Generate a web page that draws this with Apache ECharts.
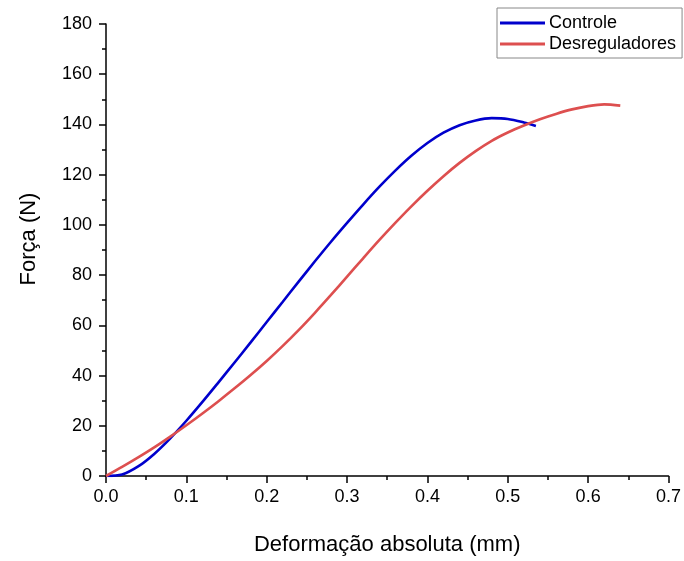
<!DOCTYPE html>
<html><head><meta charset="utf-8">
<script src="https://cdn.jsdelivr.net/npm/echarts@6/dist/echarts.min.js"></script>
<style>html,body{margin:0;padding:0;background:#fff}#c{width:684px;height:561px}</style>
</head><body><div id="c"></div>
<script>
const controleX = [0, 0.02, 0.04, 0.06, 0.08, 0.10, 0.12, 0.14, 0.16, 0.18, 0.20, 0.22, 0.24, 0.26, 0.28, 0.30, 0.32, 0.34, 0.36, 0.38, 0.40, 0.42, 0.44, 0.46, 0.48, 0.50, 0.52, 0.535];
const controleY = [0, 0.6, 3.8, 8.8, 15.0, 22.0, 29.5, 37.3, 45.2, 53.2, 61.3, 69.4, 77.5, 85.5, 93.3, 100.8, 108.1, 115.1, 121.6, 127.5, 132.6, 136.7, 139.7, 141.6, 142.5, 142.2, 140.8, 139.4];
const desregX = [0, 0.02, 0.04, 0.06, 0.08, 0.10, 0.12, 0.14, 0.16, 0.18, 0.20, 0.22, 0.24, 0.26, 0.28, 0.30, 0.32, 0.34, 0.36, 0.38, 0.40, 0.42, 0.44, 0.46, 0.48, 0.50, 0.52, 0.54, 0.56, 0.58, 0.60, 0.62, 0.64];
const desregY = [0, 3.6, 7.4, 11.4, 15.7, 20.2, 24.9, 29.8, 34.9, 40.2, 45.8, 51.8, 58.2, 65.0, 72.1, 79.4, 86.7, 93.9, 100.8, 107.4, 113.6, 119.4, 124.7, 129.4, 133.5, 136.8, 139.6, 142.1, 144.2, 146.0, 147.3, 148.0, 147.5];
const seriesNames = ['Controle', 'Desreguladores'];
const xTitle = 'Deformação absoluta (mm)';
const yTitle = 'Força (N)';

const zip = (xs, ys) => xs.map((x, i) => [x, ys[i]]);
const font = 'Arial, "Liberation Sans", sans-serif';
const chart = echarts.init(document.getElementById('c'), null, {renderer: 'canvas'});
chart.setOption({
  animation: false,
  backgroundColor: '#fff',
  grid: {left: 106, right: 15, top: 24, bottom: 84, containLabel: false},
  legend: {
    orient: 'vertical', left: 497, top: 8,
    padding: [6, 6, 5, 3], itemGap: 3,
    itemWidth: 45, itemHeight: 3, icon: 'rect',
    borderColor: '#888', borderWidth: 1,
    textStyle: {fontFamily: font, fontSize: 18, color: '#000', padding: [0, 0, 0, -1]},
    data: seriesNames
  },
  xAxis: {
    type: 'value', min: 0, max: 0.7, interval: 0.1,
    name: xTitle, nameLocation: 'middle', nameGap: 58,
    nameTextStyle: {fontFamily: font, fontSize: 22, color: '#000'},
    axisLine: {lineStyle: {color: '#000', width: 1.5}},
    axisTick: {inside: false, length: 7, lineStyle: {color: '#000', width: 1.5}},
    minorTick: {show: true, splitNumber: 2, length: 4, lineStyle: {color: '#000', width: 1.5}},
    axisLabel: {fontFamily: font, fontSize: 18, color: '#000', margin: 12, formatter: v => v.toFixed(1)},
    splitLine: {show: false}
  },
  yAxis: {
    type: 'value', min: 0, max: 180, interval: 20,
    name: yTitle, nameLocation: 'middle', nameGap: 66, nameRotate: 90,
    nameTextStyle: {fontFamily: font, fontSize: 22, color: '#000', padding: [0, 0, 0, 22]},
    axisLine: {show: true, lineStyle: {color: '#000', width: 1.5}},
    axisTick: {show: true, inside: false, length: 7, lineStyle: {color: '#000', width: 1.5}},
    minorTick: {show: true, splitNumber: 2, length: 4, lineStyle: {color: '#000', width: 1.5}},
    axisLabel: {fontFamily: font, fontSize: 18, color: '#000', margin: 14},
    splitLine: {show: false}
  },
  series: [
    {name: seriesNames[0], type: 'line', data: zip(controleX, controleY), smooth: 0.3, showSymbol: false, symbol: 'none',
     lineStyle: {color: '#0000cc', width: 2.6}, itemStyle: {color: '#0000cc'}},
    {name: seriesNames[1], type: 'line', data: zip(desregX, desregY), smooth: 0.3, showSymbol: false, symbol: 'none',
     lineStyle: {color: '#dd4f4f', width: 2.6}, itemStyle: {color: '#dd4f4f'}}
  ]
});
</script></body></html>
